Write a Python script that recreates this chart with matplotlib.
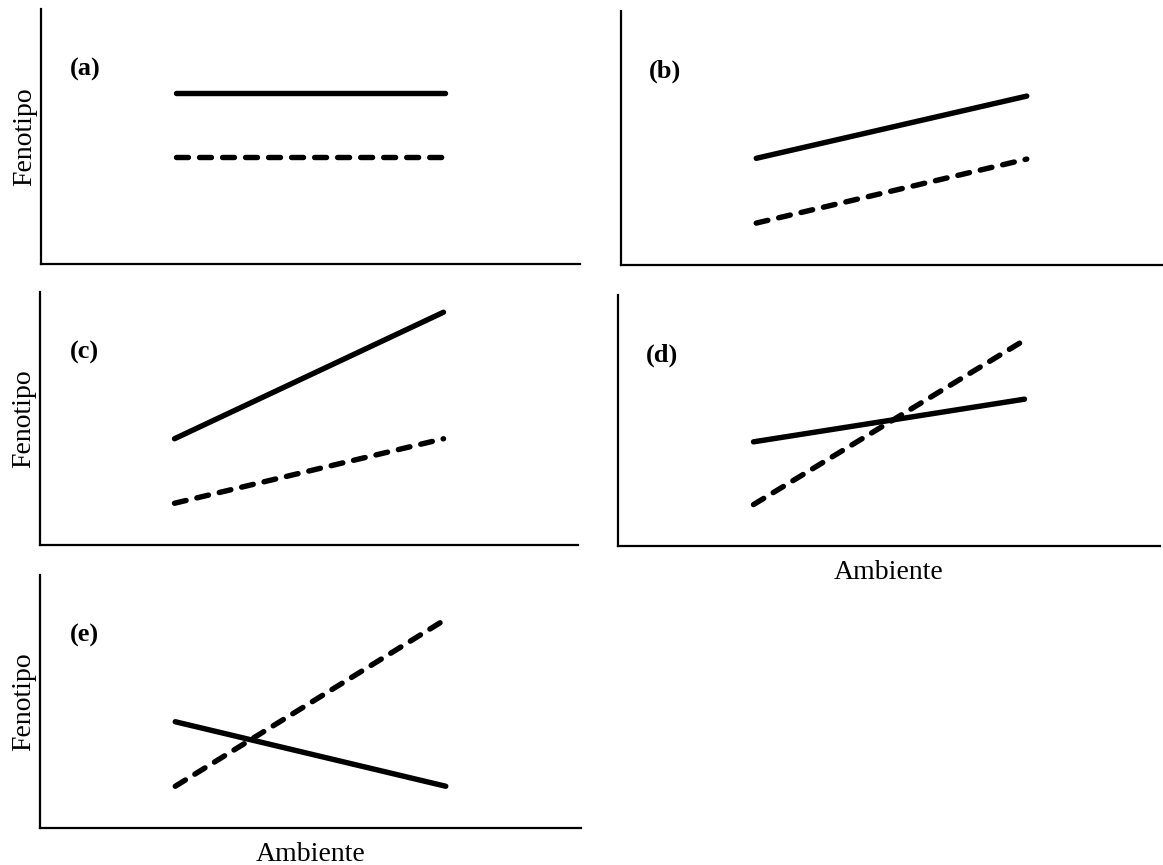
import matplotlib
matplotlib.use("Agg")
import matplotlib.pyplot as plt

plt.rcParams['font.family'] = ['Liberation Serif', 'DejaVu Serif']

# Data (Ambiente: two environments; Fenotipo on arbitrary 0-10 scale)
ambiente = [1, 3]
panels = ["(a)", "(b)", "(c)", "(d)", "(e)"]
genotype1 = {  # solid line
    "(a)": [6.7, 6.7],
    "(b)": [4.2, 6.65],
    "(c)": [4.2, 9.2],
    "(d)": [4.15, 5.85],
    "(e)": [4.2, 1.65],
}
genotype2 = {  # dashed line
    "(a)": [4.2, 4.2],
    "(b)": [1.65, 4.17],
    "(c)": [1.65, 4.2],
    "(d)": [1.65, 8.2],
    "(e)": [1.65, 8.25],
}
ylabel_text = "Fenotipo"
xlabel_text = "Ambiente"

W, H = 1163, 865
fig = plt.figure(figsize=(W / 100, H / 100), dpi=100)

# axes boxes in pixels: left, top, right, bottom
boxes = {
    "(a)": (41, 9, 580, 264),
    "(b)": (621, 11, 1162, 265),
    "(c)": (40, 292, 578, 545),
    "(d)": (618, 295, 1160, 546),
    "(e)": (40, 575, 581, 828),
}
show_ylabel = {"(a)", "(c)", "(e)"}
show_xlabel = {"(d)", "(e)"}

for p in panels:
    l, t, r, b = boxes[p]
    ax = fig.add_axes([l / W, 1 - b / H, (r - l) / W, (b - t) / H])
    ax.set_xlim(0, 4)
    ax.set_ylim(0, 10)
    ax.plot(ambiente, genotype1[p], color='black', lw=3.9, solid_capstyle='round')
    ax.plot(ambiente, genotype2[p], color='black', lw=3.9, linestyle=(0, (2.2, 2.05)),
            dash_capstyle='round')
    for s in ['top', 'right']:
        ax.spines[s].set_visible(False)
    for s in ['left', 'bottom']:
        ax.spines[s].set_linewidth(1.6)
        ax.spines[s].set_color('black')
    ax.set_xticks([])
    ax.set_yticks([])
    ax.text(44 / (r - l), 1 - 60 / (b - t), p, transform=ax.transAxes,
            fontsize=19, fontweight='bold', ha='center', va='center')
    if p in show_ylabel:
        ax.set_ylabel(ylabel_text, fontsize=20, labelpad=3)
    if p in show_xlabel:
        ax.set_xlabel(xlabel_text, fontsize=20, labelpad=10)

fig.savefig("out.png", dpi=100, facecolor='white')
